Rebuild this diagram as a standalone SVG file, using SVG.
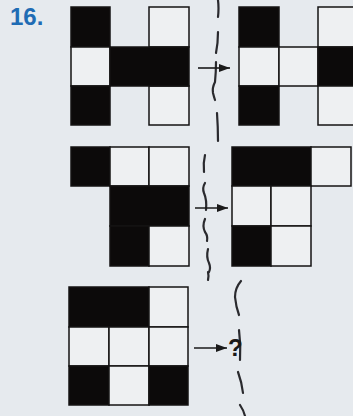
<svg xmlns="http://www.w3.org/2000/svg" width="353" height="416" viewBox="0 0 353 416">
<style>
.b{fill:#0c0a0a;stroke:#151313;stroke-width:1.5}
.w{fill:#eef0f2;stroke:#151313;stroke-width:1.5}
.dash{fill:none;stroke:#2a2a2e;stroke-width:2.2;stroke-linecap:round}
.arr{stroke:#1a1a1a;stroke-width:1.6;fill:none}
.num{font-family:"Liberation Sans",Arial,sans-serif;font-weight:bold;font-size:24px;fill:#1f6cb4}
.q{font-family:"Liberation Sans",Arial,sans-serif;font-weight:bold;font-size:24px;fill:#1a1a1a}
</style>
<defs>
<marker id="ah" markerWidth="12" markerHeight="10" refX="11" refY="5" orient="auto" markerUnits="userSpaceOnUse">
<path d="M0,1 L11,5 L0,9 Z" fill="#1a1a1a"/>
</marker>
</defs>
<rect x="0" y="0" width="353" height="416" fill="#e6eaee"/>
<text class="num" x="10" y="25">16.</text>

<g id="fig1">
<rect class="b" x="71" y="7" width="39" height="40"/>
<rect class="w" x="71" y="47" width="39" height="39"/>
<rect class="b" x="71" y="86" width="39" height="39"/>
<rect class="w" x="149" y="7" width="40" height="40"/>
<rect class="w" x="149" y="86" width="40" height="39"/>
<rect class="b" x="110" y="47" width="79" height="39"/>
</g>

<g id="fig2">
<rect class="b" x="239" y="7" width="40" height="40"/>
<rect class="w" x="239" y="47" width="40" height="39"/>
<rect class="b" x="239" y="86" width="40" height="39"/>
<rect class="w" x="279" y="47" width="39" height="39"/>
<rect class="w" x="318" y="7" width="40" height="40"/>
<rect class="b" x="318" y="47" width="40" height="39"/>
<rect class="w" x="318" y="86" width="40" height="39"/>
</g>

<g id="fig3">
<rect class="b" x="71" y="147" width="39" height="39"/>
<rect class="w" x="110" y="147" width="39" height="39"/>
<rect class="w" x="149" y="147" width="40" height="39"/>
<rect class="b" x="110" y="186" width="79" height="40"/>
<rect class="b" x="110" y="226" width="39" height="40"/>
<rect class="w" x="149" y="226" width="40" height="40"/>
</g>

<g id="fig4">
<rect class="b" x="232" y="147" width="79" height="39"/>
<rect class="w" x="311" y="147" width="40" height="39"/>
<rect class="w" x="232" y="186" width="39" height="40"/>
<rect class="w" x="271" y="186" width="40" height="40"/>
<rect class="b" x="232" y="226" width="39" height="40"/>
<rect class="w" x="271" y="226" width="40" height="40"/>
</g>

<g id="fig5">
<rect class="b" x="69" y="287" width="80" height="40"/>
<rect class="w" x="149" y="287" width="39" height="40"/>
<rect class="w" x="69" y="327" width="40" height="39"/>
<rect class="w" x="109" y="327" width="40" height="39"/>
<rect class="w" x="149" y="327" width="39" height="39"/>
<rect class="b" x="69" y="366" width="40" height="39"/>
<rect class="w" x="109" y="366" width="40" height="39"/>
<rect class="b" x="149" y="366" width="39" height="39"/>
</g>

<g id="divider">
<path class="dash" d="M218,0 Q219,8 218,17"/>
<path class="dash" d="M218,32 Q218,43 216,53"/>
<path class="dash" d="M216,62 Q216,72 215,82 Q212,88 213,93 Q214,97 215,100"/>
<path class="dash" d="M217,113 Q218,127 218,141"/>
<path class="dash" d="M205,155 Q203,163 204,172"/>
<path class="dash" d="M205,183 Q202,188 204,193 Q207,200 206,210"/>
<path class="dash" d="M205,219 Q202,226 205,232 Q208,236 207,241"/>
<path class="dash" d="M208,249 Q206,257 209,263 Q211,268 209,272"/>
<path class="dash" d="M208,272 Q209,276 208,280"/>
<path class="dash" d="M241,281 Q235,288 235,297 Q236,307 239,315"/>
<path class="dash" d="M239,330 Q241,345 240,360"/>
<path class="dash" d="M238,372 Q242,383 243,393"/>
<path class="dash" d="M240,405 Q244,411 245,416"/>
</g>

<g id="connectors">
<line class="arr" x1="198" y1="68" x2="230" y2="68" marker-end="url(#ah)"/>
<line class="arr" x1="195" y1="208" x2="228" y2="208" marker-end="url(#ah)"/>
<line class="arr" x1="194" y1="348" x2="227" y2="348" marker-end="url(#ah)"/>
</g>
<text class="q" x="228" y="356">?</text>
</svg>
